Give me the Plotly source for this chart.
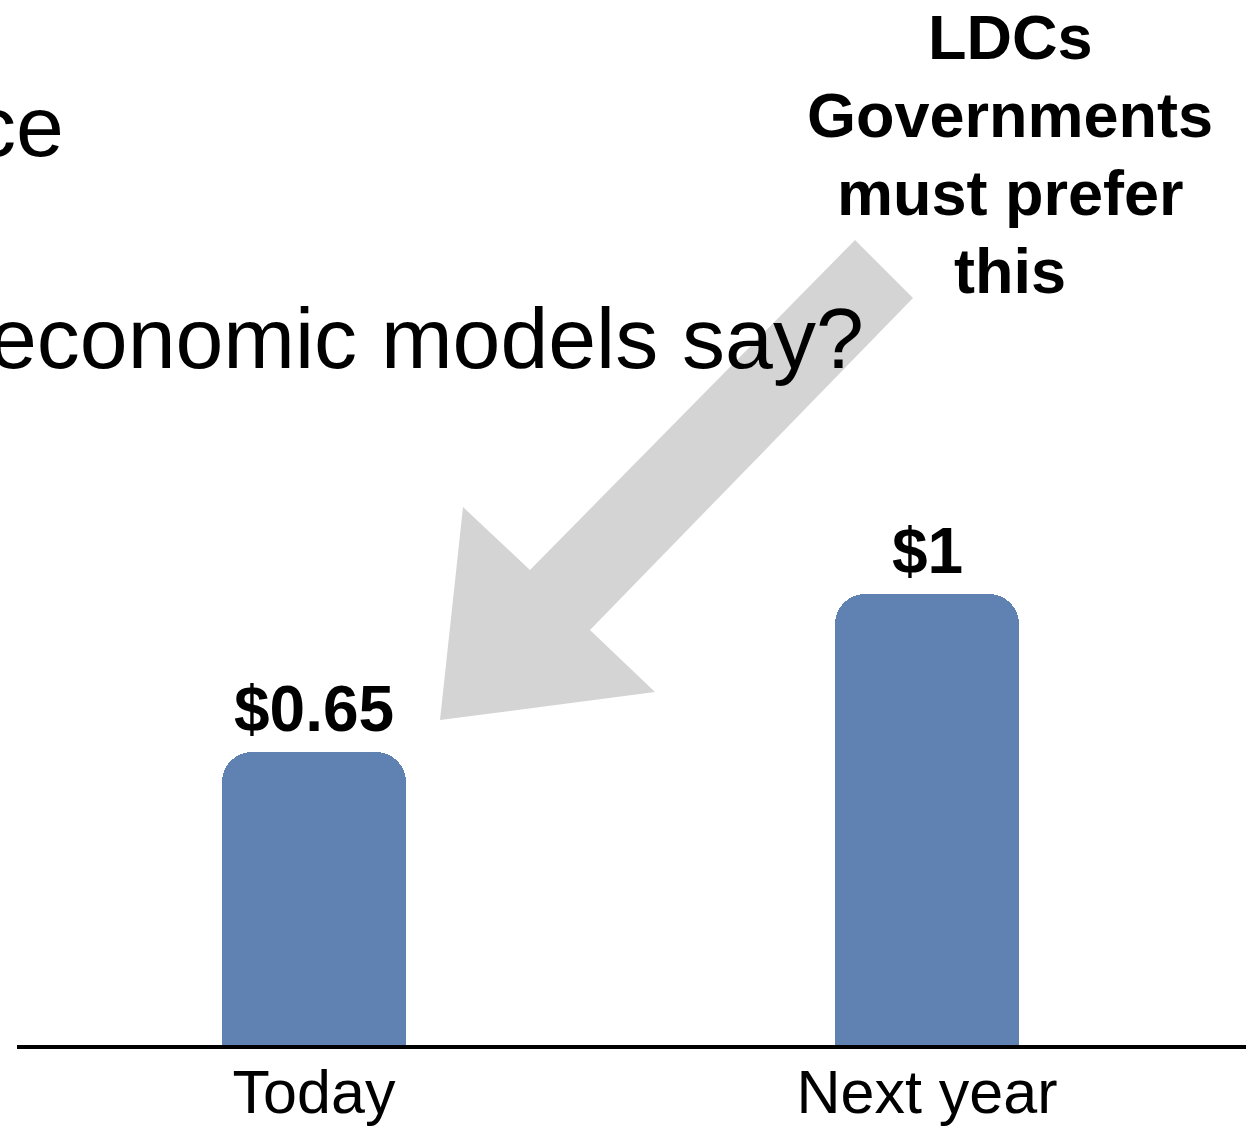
import plotly.graph_objects as go

# ---- data ----
categories = ["Today", "Next year"]
values = [0.65, 1.0]
value_labels = ["$0.65", "$1"]
title_fragments = ["ce", "economic models say?"]
callout_lines = ["LDCs", "Governments", "must prefer", "this"]

# ---- layout constants ----
W, H = 1246, 1128
ML, MR, MT, MB = 17, 0, 0, 83
PW, PH = W - ML - MR, H - MT - MB
FONT = "Liberation Sans, Arial, Helvetica, sans-serif"
BAR_COLOR = "#6082B3"
ARROW_COLOR = "#D4D4D4"


def px(xp, yp):
    """Convert page pixel position to paper coordinates."""
    return (xp - ML) / PW, (H - MB - yp) / PH


fig = go.Figure()
fig.add_trace(go.Bar(
    x=categories, y=values,
    marker=dict(color=BAR_COLOR, cornerradius=30, line=dict(width=0)),
    width=0.3, hoverinfo="skip", showlegend=False,
))

annotations = []
for c, v, lab in zip(categories, values, value_labels):
    annotations.append(dict(
        x=c, y=v, xref="x", yref="y", text=lab, showarrow=False,
        yanchor="bottom", yshift=5,
        font=dict(family=FONT, size=64, color="black", weight="bold"),
    ))

# cropped slide title fragments
for txt, (xr, yc) in zip(title_fragments, [(66, 126), (866, 338)]):
    x, y = px(xr, yc)
    annotations.append(dict(
        x=x, y=y, xref="paper", yref="paper", text=txt, showarrow=False,
        xanchor="right", yanchor="middle",
        font=dict(family=FONT, size=86, color="black"),
    ))

# callout lines
for i, line in enumerate(callout_lines):
    x, y = px(1010, 37 + i * 78)
    annotations.append(dict(
        x=x, y=y, xref="paper", yref="paper", text=line, showarrow=False,
        xanchor="center", yanchor="middle",
        font=dict(family=FONT, size=63, color="black", weight="bold"),
    ))

# big grey arrow (decoration), defined in page pixels
arrow_px = [(855, 240), (913, 298), (590, 630), (655, 692),
            (440, 720), (463, 507), (530, 570)]
pts = [px(a, b) for a, b in arrow_px]
path = "M " + " L ".join(f"{a:.5f},{b:.5f}" for a, b in pts) + " Z"

fig.update_layout(
    width=W, height=H,
    margin=dict(l=ML, r=MR, t=MT, b=MB, pad=0, autoexpand=False),
    paper_bgcolor="white", plot_bgcolor="white",
    xaxis=dict(
        range=[-0.4845, 1.5204], showline=True, linewidth=4, linecolor="black",
        showgrid=False, zeroline=False, ticks="", automargin=False,
        tickfont=dict(family=FONT, size=61, color="black"),
        ticklabelstandoff=-9,
    ),
    yaxis=dict(range=[0, 2.317], visible=False, showgrid=False, zeroline=False,
               automargin=False),
    annotations=annotations,
    shapes=[dict(type="path", xref="paper", yref="paper", path=path,
                 fillcolor=ARROW_COLOR, line=dict(width=0), layer="below")],
    bargap=0,
)

fig.write_html("out.html", config={"displayModeBar": False})
